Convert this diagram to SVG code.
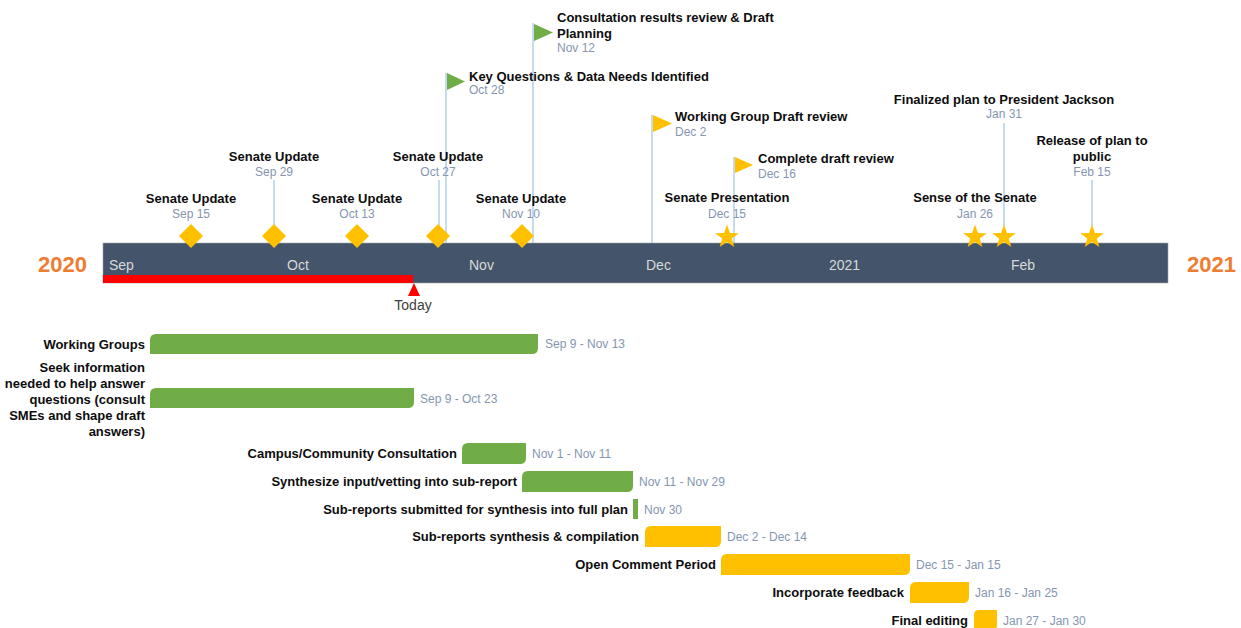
<svg xmlns="http://www.w3.org/2000/svg" xmlns:xlink="http://www.w3.org/1999/xlink" width="1241" height="628" viewBox="0 0 1241 628">
<style>
.lbl{font-family:"Liberation Sans",Arial,sans-serif;font-weight:bold;font-size:13px;fill:#0d0d0d}
.dt{font-family:"Liberation Sans",Arial,sans-serif;font-size:12px;fill:#8496b0}
.mon{font-family:"Liberation Sans",Arial,sans-serif;font-size:14px;fill:#d9d9d9}
.yr{font-family:"Liberation Sans",Arial,sans-serif;font-weight:bold;font-size:22px;fill:#ed7d31}
.mid{text-anchor:middle}
.end{text-anchor:end}
.vl{stroke:#9dc3e6;stroke-width:1.2;fill:none}
.g{fill:#70ad47}
.y{fill:#ffc000}
</style>
<defs>
<path id="star" d="M0,-12.5 L2.94,-4.05 L11.89,-3.86 L4.76,1.55 L7.35,10.11 L0,5 L-7.35,10.11 L-4.76,1.55 L-11.89,-3.86 L-2.94,-4.05 Z" fill="#ffc000"/>
<path id="diamond" d="M0,-12 L12,0 L0,12 L-12,0 Z" fill="#ffc000"/>
</defs>
<rect width="1241" height="628" fill="#ffffff"/>

<g id="connectors">
<line class="vl" x1="274" y1="180" x2="274" y2="226"/>
<line class="vl" x1="439" y1="180" x2="439" y2="226"/>
<line class="vl" x1="446" y1="73" x2="446" y2="243"/>
<line class="vl" x1="533" y1="23" x2="533" y2="243"/>
<line class="vl" x1="652" y1="115" x2="652" y2="243"/>
<line class="vl" x1="734" y1="157" x2="734" y2="243"/>
<line class="vl" x1="1004" y1="123" x2="1004" y2="226"/>
<line class="vl" x1="1092" y1="180" x2="1092" y2="226"/>
</g>

<g id="timeline">
<rect x="103" y="243" width="1065" height="40" fill="#44546a" stroke="#a6a6a6" stroke-width="0.6"/>
<rect x="103" y="275" width="310" height="8" fill="#ff0000"/>
<path d="M414,283 L420,296 L408,296 Z" fill="#ff0000"/>
<text class="mon" x="413" y="310" style="fill:#404040" text-anchor="middle">Today</text>
<text class="mon" x="109" y="270">Sep</text>
<text class="mon" x="287" y="270">Oct</text>
<text class="mon" x="469" y="270">Nov</text>
<text class="mon" x="646" y="270">Dec</text>
<text class="mon" x="829" y="270">2021</text>
<text class="mon" x="1011" y="270">Feb</text>
<text class="yr" x="38" y="272">2020</text>
<text class="yr" x="1187" y="272">2021</text>
</g>

<g id="m-sep15"><use xlink:href="#diamond" x="191" y="236"/><text class="lbl mid" x="191" y="203">Senate Update</text><text class="dt mid" x="191" y="218">Sep 15</text></g>
<g id="m-sep29"><use xlink:href="#diamond" x="274" y="236"/><text class="lbl mid" x="274" y="161">Senate Update</text><text class="dt mid" x="274" y="176">Sep 29</text></g>
<g id="m-oct13"><use xlink:href="#diamond" x="357" y="236"/><text class="lbl mid" x="357" y="203">Senate Update</text><text class="dt mid" x="357" y="218">Oct 13</text></g>
<g id="m-oct27"><use xlink:href="#diamond" x="438" y="236"/><text class="lbl mid" x="438" y="161">Senate Update</text><text class="dt mid" x="438" y="176">Oct 27</text></g>
<g id="m-nov10"><use xlink:href="#diamond" x="522" y="236"/><text class="lbl mid" x="521" y="203">Senate Update</text><text class="dt mid" x="521" y="218">Nov 10</text></g>

<g id="f-oct28"><path class="g" d="M447,73 L465,81.5 L447,90 Z"/><text class="lbl" x="469" y="81">Key Questions &amp; Data Needs Identified</text><text class="dt" x="469" y="94">Oct 28</text></g>
<g id="f-nov12"><path class="g" d="M534,24 L553,32.5 L534,41 Z"/><text class="lbl" x="557" y="22">Consultation results review &amp; Draft</text><text class="lbl" x="557" y="38">Planning</text><text class="dt" x="557" y="52">Nov 12</text></g>
<g id="f-dec2"><path class="y" d="M653,115 L672,123.5 L653,132 Z"/><text class="lbl" x="675" y="121">Working Group Draft review</text><text class="dt" x="675" y="136">Dec 2</text></g>
<g id="f-dec16"><path class="y" d="M735,157 L753,165 L735,173 Z"/><text class="lbl" x="758" y="163">Complete draft review</text><text class="dt" x="758" y="178">Dec 16</text></g>

<g id="s-dec15"><use xlink:href="#star" x="727" y="237"/><text class="lbl mid" x="727" y="202">Senate Presentation</text><text class="dt mid" x="727" y="218">Dec 15</text></g>
<g id="s-jan26"><use xlink:href="#star" x="975" y="237"/><text class="lbl mid" x="975" y="202">Sense of the Senate</text><text class="dt mid" x="975" y="218">Jan 26</text></g>
<g id="s-jan31"><use xlink:href="#star" x="1004" y="237"/><text class="lbl mid" x="1004" y="104">Finalized plan to President Jackson</text><text class="dt mid" x="1004" y="118">Jan 31</text></g>
<g id="s-feb15"><use xlink:href="#star" x="1092" y="237"/><text class="lbl mid" x="1092" y="145">Release of plan to</text><text class="lbl mid" x="1092" y="161">public</text><text class="dt mid" x="1092" y="176">Feb 15</text></g>

<g id="t-working-groups"><path class="g" d="M150,340 Q150,334 156,334 H538 V348 Q538,354 532,354 H150 Z"/><text class="lbl end" x="145" y="349">Working Groups</text><text class="dt" x="545" y="348">Sep 9 - Nov 13</text></g>
<g id="t-seek"><path class="g" d="M150,394 Q150,388 156,388 H414 V402 Q414,408 408,408 H150 Z"/>
<text class="lbl end" x="145" y="372">Seek information</text><text class="lbl end" x="145" y="388">needed to help answer</text><text class="lbl end" x="145" y="404">questions (consult</text><text class="lbl end" x="145" y="420">SMEs and shape draft</text><text class="lbl end" x="145" y="436">answers)</text>
<text class="dt" x="420" y="403">Sep 9 - Oct 23</text></g>
<g id="t-campus"><path class="g" d="M462,449 Q462,443 468,443 H526 V458 Q526,464 520,464 H462 Z"/><text class="lbl end" x="457" y="458">Campus/Community Consultation</text><text class="dt" x="532" y="458">Nov 1 - Nov 11</text></g>
<g id="t-synth"><path class="g" d="M522,477 Q522,471 528,471 H633 V486 Q633,492 627,492 H522 Z"/><text class="lbl end" x="517" y="486">Synthesize input/vetting into sub-report</text><text class="dt" x="639" y="486">Nov 11 - Nov 29</text></g>
<g id="t-submitted"><rect class="g" x="633" y="499" width="5" height="20"/><text class="lbl end" x="628" y="514">Sub-reports submitted for synthesis into full plan</text><text class="dt" x="644" y="514">Nov 30</text></g>
<g id="t-compilation"><path class="y" d="M645,532 Q645,526 651,526 H721 V541 Q721,547 715,547 H645 Z"/><text class="lbl end" x="639" y="541">Sub-reports synthesis &amp; compilation</text><text class="dt" x="727" y="541">Dec 2 - Dec 14</text></g>
<g id="t-comment"><path class="y" d="M721,560 Q721,554 727,554 H910 V569 Q910,575 904,575 H721 Z"/><text class="lbl end" x="716" y="569">Open Comment Period</text><text class="dt" x="916" y="569">Dec 15 - Jan 15</text></g>
<g id="t-feedback"><path class="y" d="M910,588 Q910,582 916,582 H969 V597 Q969,603 963,603 H910 Z"/><text class="lbl end" x="904" y="597">Incorporate feedback</text><text class="dt" x="975" y="597">Jan 16 - Jan 25</text></g>
<g id="t-editing"><path class="y" d="M974,615 Q974,610 979,610 H997 V625 Q997,630 992,630 H974 Z"/><text class="lbl end" x="968" y="625">Final editing</text><text class="dt" x="1003" y="625">Jan 27 - Jan 30</text></g>
</svg>
